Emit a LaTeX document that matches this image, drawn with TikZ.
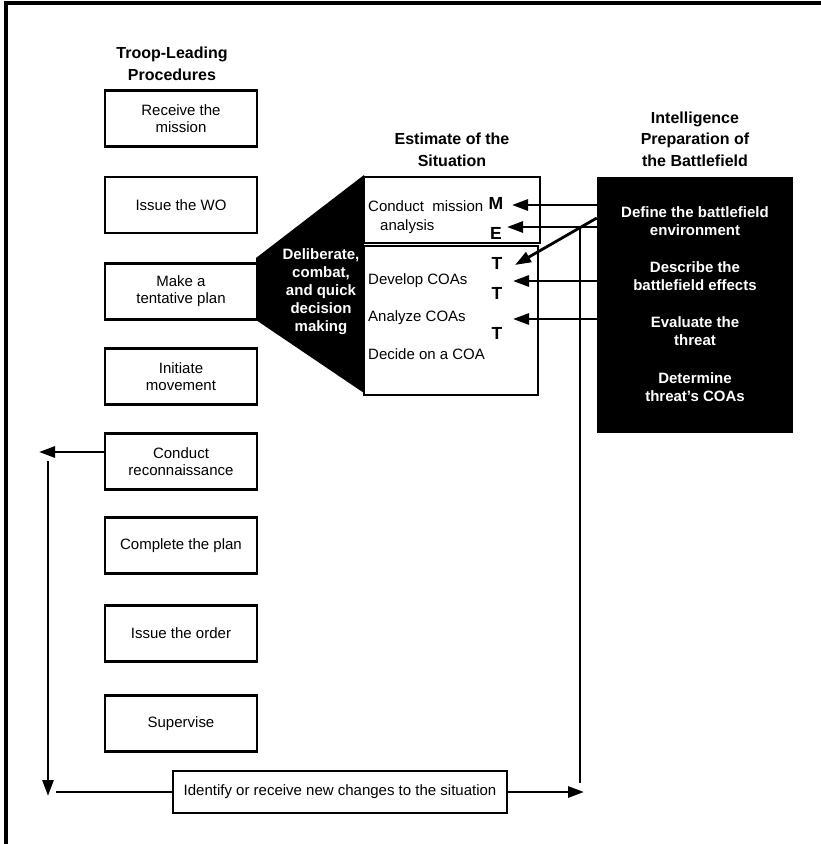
\documentclass[tikz,border=0pt]{standalone}
\usepackage{fontspec}
\setmainfont{Liberation Sans}
\usetikzlibrary{arrows.meta}

\begin{document}
\begin{tikzpicture}
  [x=1pt,y=-1pt,
   every node/.style={font=\fontsize{15}{17}\selectfont,align=center,inner sep=0pt},
   box/.style={draw,line width=2.2pt,minimum width=152pt,minimum height=56pt},
   head/.style={font=\fontsize{16}{21.5}\selectfont\bfseries},
   wtext/.style={text=white,font=\fontsize{15}{18}\selectfont\bfseries},
   letter/.style={font=\fontsize{17.5}{17}\selectfont\bfseries},
   arr/.style={line width=2.8pt,-{Triangle[length=16pt,width=11pt]}}]
  \useasboundingbox (0,0) rectangle (821,844);
  \draw[line width=3.5pt] (6,844) -- (6,3) -- (821,3);
  % titles
  \node[head] (tl) at (172,64) {Troop-Leading\\Procedures};
  \node[head] (es) at (452,150) {Estimate of the\\Situation};
  \node[head] (ip) at (695,139) {Intelligence\\Preparation of\\the Battlefield};
  % troop-leading procedures
  \node[box] (a) at (181,118.5) {Receive the\\mission};
  \node[box] (b) at (181,205) {Issue the WO};
  \node[box] (c) at (181,291.5) {Make a\\tentative plan};
  \node[box] (d) at (181,376.5) {Initiate\\movement};
  \node[box] (e) at (181,461.5) {Conduct\\reconnaissance};
  \node[box] (f) at (181,545.5) {Complete the plan};
  \node[box] (g) at (181,633.5) {Issue the order};
  \node[box] (h) at (181,723.5) {Supervise};
  % decision making wedge
  \fill (364,175) -- (256,258) -- (256,320) -- (364,393) -- cycle;
  \node[wtext] (dm) at (321,292) {Deliberate,\\combat,\\and quick\\decision\\making};
  % estimate of the situation
  \node[draw,line width=2.2pt,minimum width=176pt,minimum height=66pt] (ea) at (452,210) {};
  \node[draw,line width=2.2pt,minimum width=174pt,minimum height=149pt] (eb) at (451,320.5) {};
  \node[anchor=west,align=left,font=\fontsize{15}{19}\selectfont] (ca) at (368,217) {Conduct\ \ mission\\\hspace{12pt}analysis};
  \node[anchor=west] (dv) at (368,281) {Develop COAs};
  \node[anchor=west] (an) at (368,318) {Analyze COAs};
  \node[anchor=west] (dc) at (368,354) {Decide on a COA};
  \node[letter] (lm) at (496,203) {M};
  \node[letter] (le) at (496,233) {E};
  \node[letter] (lt) at (497,263) {T};
  \node[letter] (lu) at (497,293) {T};
  \node[letter] (lv) at (497,333) {T};
  % IPB
  \node[fill=black,minimum width=196pt,minimum height=256pt] (ipb) at (695,305) {};
  \node[wtext] (i1) at (695,221.5) {Define the battlefield\\environment};
  \node[wtext] (i2) at (695,276) {Describe the\\battlefield effects};
  \node[wtext] (i3) at (695,331) {Evaluate the\\threat};
  \node[wtext] (i4) at (695,387) {Determine\\threat's COAs};
  % changes
  \node[draw,line width=2.2pt,minimum width=334pt,minimum height=42pt] (chg) at (340,792) {Identify or receive new changes to the situation};
  % arrow ends
  \coordinate (tm) at (512,205);
  \coordinate (te) at (507,227);
  \coordinate (tt) at (515,265);
  \coordinate (td) at (513,281);
  \coordinate (ta) at (513,319);
  \coordinate (jn) at (580,227);
  \coordinate (rb) at (580,783);
  \coordinate (rt) at (584,792);
  \coordinate (lr) at (39,452);
  \coordinate (lu0) at (48,461);
  \coordinate (lb) at (48,796);
  \coordinate (lh) at (56,792);
  \foreach \to in {tm,te,td,ta}
    \draw[arr] (ipb.west |- \to) -- (\to);
  \draw[arr] (ipb.west |- 0,218) -- (tt);
  \draw[line width=2.8pt] (jn) -- (rb);
  \draw[arr] (chg.east) -- (rt);
  \draw[arr] (e.west |- lr) -- (lr);
  \draw[arr] (lu0) -- (lb);
  \draw[line width=2.8pt] (lh) -- (chg.west);
\end{tikzpicture}
\end{document}
